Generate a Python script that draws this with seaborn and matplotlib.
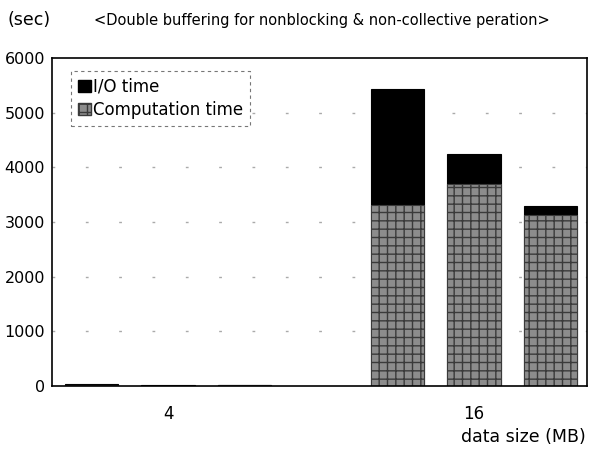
import pandas as pd
import matplotlib.pyplot as plt
import seaborn as sns
from matplotlib.patches import Patch

# values (seconds)
data_sizes = ["4", "4", "4", "16", "16", "16"]
variants = ["A", "B", "C", "A", "B", "C"]
computation_time = [25, 8, 12, 3310, 3690, 3125]
io_time = [10, 4, 5, 2120, 550, 165]
y_ticks = [0, 1000, 2000, 3000, 4000, 5000, 6000]

df = pd.DataFrame({
    "size": data_sizes,
    "variant": variants,
    "comp": computation_time,
    "io": io_time,
})
df["total"] = df["comp"] + df["io"]

sns.set_style("white")
plt.rcParams["font.family"] = ["DejaVu Sans"]
plt.rcParams["text.color"] = "black"
plt.rcParams["xtick.color"] = "black"
plt.rcParams["ytick.color"] = "black"

fig = plt.figure(figsize=(5.9, 4.53), dpi=100)
ax = fig.add_axes([0.088, 0.148, 0.907, 0.724])

# total height (I/O on top) drawn first, computation over it
sns.barplot(data=df, x="size", y="total", hue="variant", order=["4", "16"],
            palette=["black"] * 3, gap=0.3, width=0.75, legend=False,
            edgecolor="black", linewidth=0.8, ax=ax)
sns.barplot(data=df, x="size", y="comp", hue="variant", order=["4", "16"],
            palette=["#8c8c8c"] * 3, gap=0.3, width=0.75, legend=False,
            edgecolor="black", linewidth=0.8, ax=ax)
n = len(df)
for p in ax.patches[n:]:
    p.set_hatch("++")
    p.set_edgecolor("#3a3a3a")

ax.set_ylim(0, 6000)
ax.set_xlim(-0.38, 1.37)
ax.set_yticks(y_ticks)
ax.set_yticklabels([str(t) for t in y_ticks], fontsize=11.5)
ax.tick_params(axis="x", length=0, labelsize=12, pad=14)
ax.tick_params(axis="y", length=0, pad=5)
for y in y_ticks[1:-1]:
    ax.axhline(y, color="#aaaaaa", linestyle=(0, (2, 22)), linewidth=1.0, zorder=0)
for s in ax.spines.values():
    s.set_color("black")
    s.set_linewidth(1.2)
ax.set_xlabel("")
ax.set_ylabel("")

handles = [Patch(facecolor="black", edgecolor="black", label="I/O time"),
           Patch(facecolor="#8c8c8c", edgecolor="#3a3a3a", hatch="++",
                 label="Computation time")]
leg = ax.legend(handles=handles, loc="upper left", bbox_to_anchor=(0.02, 0.985),
                fontsize=12, frameon=True, fancybox=False, handlelength=0.8,
                handleheight=0.8, handletextpad=0.15, borderpad=0.4, labelspacing=0.3)
leg.get_frame().set_edgecolor("#555555")
leg.get_frame().set_linestyle((0, (3, 3)))
leg.get_frame().set_linewidth(0.8)

fig.text(0.012, 0.955, "(sec)", fontsize=12.5, ha="left", va="center")
fig.text(0.16, 0.955, "<Double buffering for nonblocking & non-collective peration>",
         fontsize=10.5, ha="left", va="center")
fig.text(0.992, 0.035, "data size (MB)", fontsize=12.5, ha="right", va="center")

fig.savefig("out.png", dpi=100)
